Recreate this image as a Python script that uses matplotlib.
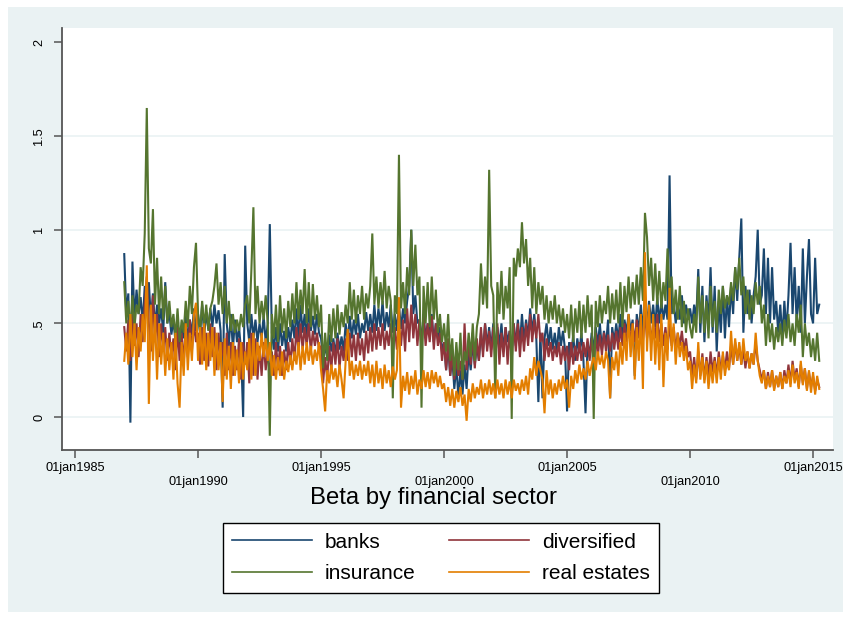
import numpy as np
import matplotlib.pyplot as plt
from matplotlib.patches import Rectangle

plt.rcParams['font.family'] = ['Liberation Sans', 'DejaVu Sans']

# monthly betas, Jan 1987 .. Apr 2015, one row per year
start_year = 1987

banks = [
    0.87, 0.55, 0.66, -0.03, 0.83, 0.52, 0.68, 0.55, 0.64, 0.50, 0.70, 0.58,
    0.72, 0.52, 0.66, 0.48, 0.60, 0.50, 0.58, 0.45, 0.72, 0.50, 0.56, 0.44,
    0.52, 0.40, 0.50, 0.38, 0.48, 0.42, 0.55, 0.40, 0.52, 0.44, 0.58, 0.46,
    0.55, 0.45, 0.60, 0.44, 0.56, 0.47, 0.58, 0.48, 0.60, 0.50, 0.57, 0.46,
    0.05, 0.87, 0.50, 0.38, 0.55, 0.36, 0.52, 0.40, 0.48, 0.35, 0.00, 0.915,
    0.50, 0.40, 0.55, 0.42, 0.52, 0.40, 0.50, 0.42, 0.54, 0.40, 0.50, 1.03,
    0.45, 0.36, 0.48, 0.35, 0.50, 0.38, 0.46, 0.35, 0.48, 0.40, 0.52, 0.42,
    0.58, 0.42, 0.60, 0.45, 0.55, 0.42, 0.58, 0.46, 0.54, 0.44, 0.55, 0.45,
    0.42, 0.30, 0.38, 0.32, 0.44, 0.35, 0.42, 0.33, 0.45, 0.36, 0.43, 0.35,
    0.50, 0.40, 0.54, 0.42, 0.52, 0.44, 0.55, 0.42, 0.50, 0.45, 0.56, 0.46,
    0.55, 0.45, 0.60, 0.46, 0.58, 0.48, 0.62, 0.46, 0.56, 0.48, 0.60, 0.45,
    0.55, 0.46, 0.60, 0.47, 0.58, 0.50, 0.62, 0.70, 1.00, 0.55, 0.65, 0.50,
    0.52, 0.40, 0.55, 0.42, 0.50, 0.44, 0.55, 0.40, 0.50, 0.42, 0.48, 0.35,
    0.40, 0.25, 0.38, 0.22, 0.32, 0.15, 0.28, 0.10, 0.25, 0.12, 0.28, 0.15,
    0.35, 0.25, 0.40, 0.28, 0.38, 0.30, 0.45, 0.35, 0.50, 0.38, 0.48, 0.36,
    0.50, 0.36, 0.48, 0.38, 0.50, 0.35, 0.48, 0.40, 0.46, 0.35, 0.50, 0.38,
    0.52, 0.38, 0.55, 0.40, 0.52, 0.42, 0.58, 0.45, 0.55, 0.42, 0.08, 0.45,
    0.10, 0.42, 0.50, 0.38, 0.48, 0.36, 0.45, 0.35, 0.48, 0.38, 0.46, 0.36,
    0.03, 0.40, 0.32, 0.44, 0.30, 0.42, 0.34, 0.45, 0.30, 0.02, 0.40, 0.32,
    0.45, 0.35, 0.48, 0.38, 0.50, 0.36, 0.46, 0.38, 0.52, 0.10, 0.48, 0.40,
    0.50, 0.40, 0.55, 0.42, 0.52, 0.45, 0.55, 0.46, 0.52, 0.22, 0.55, 0.45,
    0.60, 0.45, 0.65, 0.48, 0.62, 0.50, 0.60, 0.48, 0.64, 0.50, 0.62, 0.52,
    0.60, 0.52, 1.29, 0.55, 0.62, 0.50, 0.60, 0.52, 0.65, 0.50, 0.60, 0.52,
    0.58, 0.50, 0.60, 0.52, 0.79, 0.45, 0.70, 0.40, 0.65, 0.50, 0.80, 0.45,
    0.70, 0.35, 0.62, 0.45, 0.70, 0.42, 0.65, 0.48, 0.70, 0.55, 0.80, 0.62,
    0.85, 1.06, 0.45, 0.70, 0.55, 0.68, 0.50, 0.65, 0.75, 1.00, 0.60, 0.65,
    0.90, 0.55, 0.85, 0.50, 0.80, 0.52, 0.62, 0.45, 0.60, 0.42, 0.62, 0.45,
    0.65, 0.93, 0.55, 0.80, 0.50, 0.70, 0.45, 0.90, 0.50, 0.75, 0.95, 0.55,
    0.50, 0.85, 0.55, 0.60,
]

diversified = [
    0.48, 0.35, 0.52, 0.30, 0.55, 0.38, 0.50, 0.32, 0.55, 0.40, 0.60, 0.75,
    0.50, 0.35, 0.65, 0.40, 0.55, 0.32, 0.50, 0.35, 0.48, 0.30, 0.45, 0.32,
    0.42, 0.25, 0.48, 0.30, 0.45, 0.28, 0.50, 0.32, 0.52, 0.35, 0.50, 0.40,
    0.45, 0.28, 0.48, 0.30, 0.45, 0.27, 0.50, 0.32, 0.48, 0.25, 0.45, 0.30,
    0.40, 0.22, 0.45, 0.25, 0.40, 0.22, 0.38, 0.25, 0.42, 0.20, 0.40, 0.28,
    0.40, 0.18, 0.45, 0.22, 0.42, 0.20, 0.38, 0.22, 0.40, 0.25, 0.35, 0.22,
    0.35, 0.22, 0.40, 0.25, 0.38, 0.22, 0.36, 0.25, 0.40, 0.28, 0.42, 0.30,
    0.48, 0.35, 0.50, 0.36, 0.48, 0.38, 0.50, 0.35, 0.46, 0.38, 0.45, 0.36,
    0.38, 0.18, 0.32, 0.20, 0.38, 0.25, 0.40, 0.28, 0.42, 0.26, 0.38, 0.30,
    0.42, 0.30, 0.45, 0.32, 0.44, 0.30, 0.45, 0.33, 0.42, 0.30, 0.46, 0.34,
    0.48, 0.35, 0.50, 0.36, 0.48, 0.38, 0.50, 0.36, 0.46, 0.38, 0.50, 0.35,
    0.48, 0.36, 0.50, 0.38, 0.52, 0.35, 0.58, 0.40, 0.60, 0.42, 0.55, 0.38,
    0.52, 0.36, 0.55, 0.38, 0.50, 0.40, 0.54, 0.36, 0.50, 0.38, 0.45, 0.30,
    0.40, 0.25, 0.42, 0.22, 0.35, 0.20, 0.32, 0.22, 0.30, 0.20, 0.50, 0.25,
    0.40, 0.28, 0.45, 0.26, 0.42, 0.30, 0.48, 0.32, 0.50, 0.35, 0.46, 0.32,
    0.48, 0.30, 0.50, 0.28, 0.45, 0.32, 0.48, 0.28, 0.46, 0.30, 0.50, 0.35,
    0.50, 0.32, 0.48, 0.35, 0.50, 0.38, 0.55, 0.40, 0.52, 0.42, 0.55, 0.40,
    0.45, 0.30, 0.42, 0.32, 0.40, 0.30, 0.38, 0.32, 0.40, 0.28, 0.38, 0.30,
    0.38, 0.25, 0.40, 0.28, 0.38, 0.30, 0.40, 0.30, 0.40, 0.32, 0.42, 0.30,
    0.42, 0.30, 0.45, 0.32, 0.44, 0.33, 0.45, 0.35, 0.44, 0.35, 0.45, 0.36,
    0.46, 0.36, 0.48, 0.38, 0.50, 0.40, 0.48, 0.42, 0.50, 0.40, 0.52, 0.42,
    0.50, 0.40, 0.55, 0.42, 0.52, 0.40, 0.50, 0.42, 0.55, 0.40, 0.50, 0.38,
    0.48, 0.36, 0.50, 0.38, 0.48, 0.36, 0.45, 0.38, 0.46, 0.35, 0.42, 0.32,
    0.35, 0.22, 0.32, 0.20, 0.35, 0.22, 0.34, 0.20, 0.32, 0.22, 0.35, 0.24,
    0.32, 0.22, 0.35, 0.24, 0.33, 0.25, 0.35, 0.26, 0.38, 0.28, 0.40, 0.30,
    0.38, 0.28, 0.36, 0.26, 0.35, 0.26, 0.34, 0.28, 0.40, 0.30, 0.25, 0.20,
    0.25, 0.15, 0.24, 0.16, 0.25, 0.15, 0.22, 0.16, 0.24, 0.15, 0.25, 0.18,
    0.28, 0.18, 0.30, 0.20, 0.26, 0.16, 0.28, 0.18, 0.26, 0.15, 0.24, 0.16,
    0.22, 0.14, 0.20, 0.16,
]

insurance = [
    0.72, 0.50, 0.62, 0.45, 0.65, 0.48, 0.60, 0.55, 0.80, 0.70, 0.98, 1.65,
    0.90, 0.82, 1.11, 0.60, 0.85, 0.55, 0.75, 0.52, 0.70, 0.50, 0.62, 0.48,
    0.55, 0.42, 0.58, 0.40, 0.52, 0.45, 0.62, 0.48, 0.70, 0.55, 0.80, 0.93,
    0.55, 0.45, 0.62, 0.48, 0.60, 0.46, 0.58, 0.62, 0.70, 0.82, 0.60, 0.72,
    0.55, 0.70, 0.50, 0.62, 0.46, 0.55, 0.45, 0.52, 0.46, 0.55, 0.48, 0.60,
    0.65, 0.50, 0.78, 1.12, 0.55, 0.70, 0.50, 0.62, 0.52, 0.65, 0.50, -0.10,
    0.55, 0.42, 0.60, 0.40, 0.65, 0.45, 0.58, 0.42, 0.62, 0.48, 0.66, 0.50,
    0.72, 0.52, 0.68, 0.55, 0.79, 0.50, 0.72, 0.48, 0.71, 0.52, 0.65, 0.48,
    0.60, 0.26, 0.45, 0.30, 0.55, 0.40, 0.58, 0.42, 0.60, 0.44, 0.56, 0.48,
    0.60, 0.50, 0.72, 0.52, 0.68, 0.50, 0.65, 0.55, 0.70, 0.52, 0.66, 0.58,
    0.70, 0.98, 0.60, 0.75, 0.58, 0.72, 0.60, 0.78, 0.58, 0.70, 0.62, 0.10,
    0.65, 0.55, 1.40, 0.58, 0.72, 0.55, 0.80, 0.65, 1.00, 0.70, 0.92, 0.65,
    0.75, 0.05, 0.70, 0.50, 0.72, 0.48, 0.75, 0.52, 0.68, 0.45, 0.55, 0.40,
    0.50, 0.35, 0.55, 0.30, 0.42, 0.22, 0.40, 0.25, 0.45, 0.20, 0.35, 0.30,
    0.45, 0.32, 0.50, 0.30, 0.48, 0.55, 0.82, 0.60, 0.75, 0.58, 1.32, 0.70,
    0.65, 0.10, 0.72, 0.55, 0.78, 0.52, 0.70, 0.58, 0.80, -0.01, 0.85, 0.75,
    0.90, 0.80, 1.04, 0.82, 0.95, 0.70, 0.85, 0.58, 0.80, 0.55, 0.72, 0.60,
    0.70, 0.52, 0.65, 0.50, 0.62, 0.52, 0.65, 0.50, 0.60, 0.48, 0.58, 0.45,
    0.55, 0.42, 0.60, 0.40, 0.58, 0.45, 0.62, 0.42, 0.60, 0.45, 0.65, 0.48,
    0.60, -0.01, 0.62, 0.48, 0.65, 0.50, 0.62, 0.55, 0.70, 0.50, 0.66, 0.52,
    0.68, 0.50, 0.72, 0.48, 0.70, 0.56, 0.75, 0.58, 0.72, 0.60, 0.76, 0.60,
    0.80, 0.62, 1.09, 0.96, 0.70, 0.85, 0.62, 0.82, 0.60, 0.78, 0.58, 0.72,
    0.62, 0.90, 0.65, 0.75, 0.55, 0.68, 0.52, 0.70, 0.48, 0.62, 0.45, 0.58,
    0.48, 0.42, 0.55, 0.45, 0.75, 0.50, 0.65, 0.45, 0.62, 0.42, 0.70, 0.48,
    0.62, 0.45, 0.68, 0.55, 0.70, 0.58, 0.65, 0.60, 0.72, 0.62, 0.80, 0.68,
    0.85, 0.65, 0.75, 0.55, 0.68, 0.52, 0.65, 0.55, 0.72, 0.60, 0.70, 0.50,
    0.60, 0.38, 0.55, 0.40, 0.50, 0.36, 0.48, 0.40, 0.50, 0.38, 0.52, 0.42,
    0.55, 0.40, 0.50, 0.38, 0.55, 0.45, 0.60, 0.32, 0.50, 0.38, 0.45, 0.32,
    0.42, 0.30, 0.45, 0.30,
]

real_estates = [
    0.30, 0.45, 0.28, 0.55, 0.32, 0.50, 0.25, 0.48, 0.35, 0.55, 0.40, 0.81,
    0.07, 0.60, 0.30, 0.55, 0.20, 0.50, 0.28, 0.45, 0.22, 0.42, 0.25, 0.40,
    0.20, 0.45, 0.18, 0.05, 0.40, 0.22, 0.50, 0.25, 0.45, 0.30, 0.55, 0.61,
    0.30, 0.48, 0.28, 0.50, 0.25, 0.45, 0.30, 0.48, 0.22, 0.45, 0.25, 0.40,
    0.08, 0.42, 0.20, 0.38, 0.15, 0.40, 0.22, 0.36, 0.18, 0.40, 0.20, 0.35,
    0.25, 0.42, 0.20, 0.45, 0.22, 0.40, 0.30, 0.45, 0.32, 0.42, 0.30, 0.40,
    0.22, 0.33, 0.20, 0.32, 0.22, 0.35, 0.20, 0.30, 0.24, 0.33, 0.25, 0.35,
    0.28, 0.40, 0.25, 0.38, 0.28, 0.40, 0.30, 0.38, 0.28, 0.36, 0.30, 0.40,
    0.25, 0.15, 0.03, 0.25, 0.18, 0.28, 0.20, 0.26, 0.16, 0.28, 0.20, 0.10,
    0.30, 0.47, 0.22, 0.30, 0.20, 0.28, 0.22, 0.30, 0.20, 0.28, 0.22, 0.30,
    0.18, 0.28, 0.16, 0.30, 0.18, 0.26, 0.15, 0.28, 0.18, 0.25, 0.16, 0.27,
    0.20, 0.25, 0.64, 0.05, 0.22, 0.14, 0.24, 0.12, 0.22, 0.15, 0.25, 0.12,
    0.20, 0.15, 0.25, 0.16, 0.24, 0.15, 0.25, 0.18, 0.24, 0.16, 0.22, 0.15,
    0.18, 0.08, 0.16, 0.06, 0.15, 0.05, 0.14, 0.08, 0.16, 0.06, 0.12, -0.02,
    0.15, 0.08, 0.18, 0.10, 0.16, 0.12, 0.20, 0.10, 0.18, 0.12, 0.20, 0.12,
    0.18, 0.10, 0.20, 0.12, 0.18, 0.10, 0.20, 0.12, 0.19, 0.10, 0.20, 0.14,
    0.18, 0.12, 0.20, 0.14, 0.22, 0.12, 0.26, 0.20, 0.32, 0.22, 0.30, 0.25,
    0.20, 0.02, 0.25, 0.12, 0.20, 0.10, 0.18, 0.12, 0.20, 0.14, 0.22, 0.15,
    0.20, 0.05, 0.22, 0.15, 0.25, 0.18, 0.28, 0.20, 0.26, 0.20, 0.30, 0.22,
    0.28, 0.32, 0.25, 0.35, 0.28, 0.33, 0.26, 0.35, 0.30, 0.10, 0.32, 0.25,
    0.35, 0.22, 0.40, 0.28, 0.45, 0.30, 0.55, 0.32, 0.50, 0.20, 0.48, 0.30,
    0.55, 0.15, 0.88, 0.35, 0.60, 0.30, 0.55, 0.28, 0.50, 0.25, 0.55, 0.16,
    0.45, 0.30, 0.69, 0.35, 0.50, 0.28, 0.45, 0.32, 0.40, 0.30, 0.38, 0.25,
    0.30, 0.15, 0.28, 0.18, 0.40, 0.20, 0.32, 0.18, 0.30, 0.15, 0.28, 0.18,
    0.30, 0.18, 0.32, 0.20, 0.35, 0.22, 0.30, 0.25, 0.46, 0.28, 0.42, 0.30,
    0.40, 0.28, 0.42, 0.30, 0.35, 0.26, 0.34, 0.28, 0.45, 0.30, 0.22, 0.18,
    0.25, 0.15, 0.22, 0.16, 0.25, 0.14, 0.22, 0.16, 0.24, 0.15, 0.22, 0.18,
    0.25, 0.16, 0.28, 0.18, 0.24, 0.15, 0.30, 0.17, 0.26, 0.14, 0.25, 0.13,
    0.24, 0.12, 0.22, 0.15,
]

x_ticks = [1985, 1990, 1995, 2000, 2005, 2010, 2015]
x_labels = ['01jan1985', '\n01jan1990', '01jan1995', '\n01jan2000',
            '01jan2005', '\n01jan2010', '01jan2015']
y_ticks = [0, 0.5, 1, 1.5, 2]
y_labels = ['0', '.5', '1', '1.5', '2']

NAVY = '#1a476f'
MAROON = '#90353b'
GREEN = '#55752f'
ORANGE = '#e37e00'
BG = '#eaf2f3'

W, H = 843, 617
fig = plt.figure(figsize=(W / 100, H / 100), dpi=100, facecolor='white')
# light graph region behind the white plot region
fig.patches.append(Rectangle((8 / W, 1 - 612 / H), (W - 8) / W, (612 - 7) / H,
                             transform=fig.transFigure, facecolor=BG,
                             edgecolor='none', zorder=-10))

ax = fig.add_axes([62 / W, 1 - 450 / H, (833 - 62) / W, (450 - 28) / H])
ax.set_facecolor('white')

months = start_year + np.arange(len(banks)) / 12.0
series = [(banks, NAVY, 'banks'), (diversified, MAROON, 'diversified'),
          (insurance, GREEN, 'insurance'), (real_estates, ORANGE, 'real estates')]
lines = {}
for vals, col, name in series:
    ln, = ax.plot(months, vals, color=col, lw=1.5, solid_joinstyle='miter')
    lines[name] = ln

for yv in y_ticks[:-1]:
    ax.axhline(yv, color=BG, lw=1.2, zorder=0)

ax.set_xlim(1984.47, 2015.81)
ax.set_ylim(-0.176, 2.077)

ax.set_xticks(x_ticks)
ax.set_xticklabels(x_labels, fontsize=9.2, linespacing=1.2)
ax.set_yticks(y_ticks)
ax.set_yticklabels(y_labels, fontsize=9.2, rotation=90, va='center')
ax.tick_params(axis='both', length=6, width=1.1, color='#555555')
ax.tick_params(axis='x', pad=3)
ax.tick_params(axis='y', pad=6)

for side in ['top', 'right']:
    ax.spines[side].set_visible(False)
for side in ['left', 'bottom']:
    ax.spines[side].set_color('#555555')
    ax.spines[side].set_linewidth(1.3)

fig.text(433 / W, 1 - 498 / H, 'Beta by financial sector', ha='center',
         va='center', fontsize=17.2)

# legend fills row-wise: banks, diversified / insurance, real estates
order = ['banks', 'insurance', 'diversified', 'real estates']
leg = fig.legend([lines[n] for n in order], order, ncol=2, loc='center',
                 bbox_to_anchor=(441 / W, 1 - 558 / H), fontsize=15,
                 frameon=True, fancybox=False, framealpha=1.0,
                 facecolor='white', handlelength=3.85, handletextpad=0.62,
                 columnspacing=1.6, labelspacing=0.6, borderpad=0.45)
leg.get_frame().set_edgecolor('black')
leg.get_frame().set_linewidth(1.0)
for h in leg.get_lines():
    h.set_linewidth(1.2)

fig.savefig('out.png', dpi=100, facecolor='white')
